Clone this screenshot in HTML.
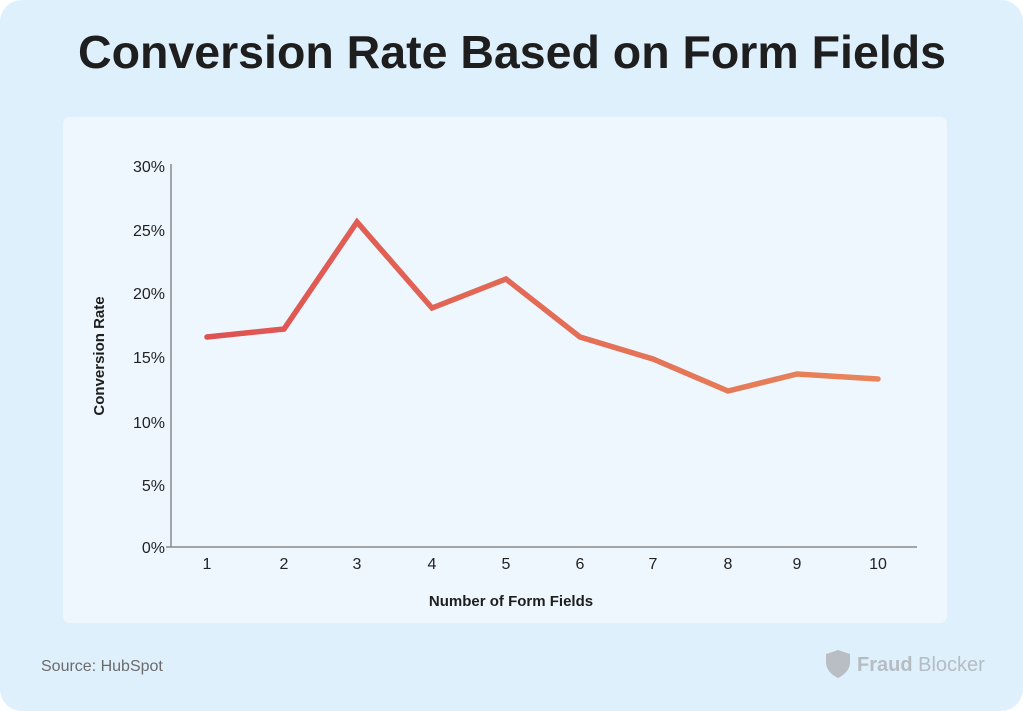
<!DOCTYPE html>
<html><head><meta charset="utf-8"><style>
html,body{margin:0;padding:0;background:#fff;}
svg{display:block;font-family:"Liberation Sans",sans-serif;}
</style></head><body>
<svg width="1023" height="711" viewBox="0 0 1023 711" xmlns="http://www.w3.org/2000/svg">
<defs>
<linearGradient id="g" x1="207" y1="0" x2="878" y2="0" gradientUnits="userSpaceOnUse">
<stop offset="0" stop-color="#de5252"/><stop offset="1" stop-color="#e8855a"/>
</linearGradient>
</defs>
<rect x="0" y="0" width="1023" height="711" rx="22" fill="#dff0fd"/>
<text x="512" y="68" text-anchor="middle" font-size="46" font-weight="bold" fill="#1e1e1e" textLength="868" lengthAdjust="spacingAndGlyphs">Conversion Rate Based on Form Fields</text>
<rect x="63" y="117" width="884" height="506" rx="7" fill="#eef7fe"/>
<line x1="171" y1="164" x2="171" y2="547" stroke="#555" stroke-width="1"/>
<line x1="166" y1="547" x2="917" y2="547" stroke="#888" stroke-width="1.5"/>
<g font-size="16" fill="#222" text-anchor="end">
<text x="165" y="172">30%</text>
<text x="165" y="236">25%</text>
<text x="165" y="299">20%</text>
<text x="165" y="363">15%</text>
<text x="165" y="428">10%</text>
<text x="165" y="491">5%</text>
<text x="165" y="553">0%</text>
</g>
<g font-size="16" fill="#222" text-anchor="middle">
<text x="207" y="569">1</text><text x="284" y="569">2</text><text x="357" y="569">3</text>
<text x="432" y="569">4</text><text x="506" y="569">5</text><text x="580" y="569">6</text>
<text x="653" y="569">7</text><text x="728" y="569">8</text><text x="797" y="569">9</text>
<text x="878" y="569">10</text>
</g>
<text x="511" y="606" text-anchor="middle" font-size="15" font-weight="bold" fill="#1e1e1e">Number of Form Fields</text>
<text transform="translate(104,356) rotate(-90)" text-anchor="middle" font-size="15" font-weight="bold" fill="#1e1e1e">Conversion Rate</text>
<polyline points="207,337 284,329 357,222 432,308 506,279 580,337 653,359 728,391 797,374 878,379" fill="none" stroke="url(#g)" stroke-width="5.5" stroke-linejoin="miter" stroke-linecap="round"/>
<text x="41" y="671" font-size="16" fill="#6b6b6b">Source: HubSpot</text>
<path d="M826,654 l12,-4 l12,4 v8 c0,8 -6,13 -12,16 c-6,-3 -12,-8 -12,-16 z" fill="#b8bec4"/>
<text x="857" y="671" font-size="20" fill="#b5bcc2"><tspan font-weight="bold">Fraud</tspan> Blocker</text>
</svg>
</body></html>
